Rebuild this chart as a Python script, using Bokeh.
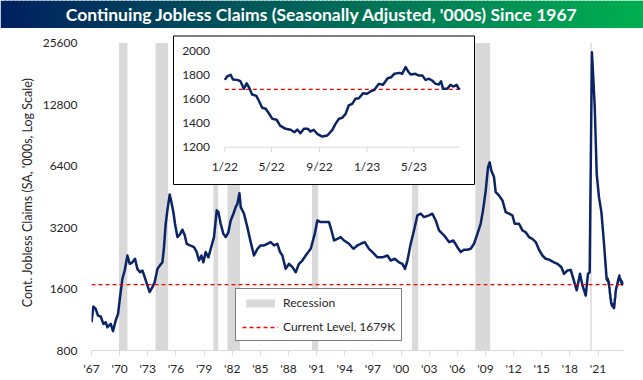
import numpy as np
import pandas as pd
from bokeh.plotting import figure
from bokeh.models import Range1d, LinearScale, FixedTicker, Legend, LegendItem, LinearAxis
from bokeh.core.properties import value
from bokeh.embed import file_html
from bokeh.resources import INLINE

# ---------------- data ----------------
TITLE = "Continuing Jobless Claims (Seasonally Adjusted, '000s) Since 1967"
Y_LABEL = "Cont. Jobless Claims (SA, '000s, Log Scale)"

hist_year = [
    1967.00, 1967.20, 1967.45, 1967.69, 1967.98, 1968.27, 1968.51, 1968.70, 1969.05, 1969.29,
    1969.58, 1969.83, 1970.04, 1970.29, 1970.54, 1970.83, 1971.07, 1971.36, 1971.64, 1971.89,
    1972.17, 1972.43, 1972.67, 1972.96, 1973.20, 1973.49, 1973.74, 1974.03, 1974.30, 1974.56,
    1974.73, 1974.91, 1975.09, 1975.34, 1975.52, 1975.73, 1975.90, 1976.16, 1976.43, 1976.69,
    1976.94, 1977.15, 1977.50, 1977.93, 1978.22, 1978.46, 1978.72, 1978.93, 1979.17, 1979.46,
    1979.71, 1980.06, 1980.35, 1980.53, 1980.77, 1981.06, 1981.31, 1981.59, 1981.84, 1982.13,
    1982.37, 1982.55, 1982.77, 1982.91, 1983.26, 1983.62, 1983.97, 1984.32, 1984.69, 1985.04,
    1985.39, 1985.75, 1986.10, 1986.46, 1986.82, 1987.10, 1987.35, 1987.70, 1988.06, 1988.42,
    1988.77, 1989.12, 1989.48, 1989.84, 1990.37, 1990.80, 1991.08, 1991.43, 1991.79, 1992.32,
    1992.58, 1992.86, 1993.22, 1993.57, 1993.92, 1994.45, 1994.92, 1995.35, 1995.70, 1996.13,
    1996.58, 1996.95, 1997.48, 1998.01, 1998.55, 1998.90, 1999.32, 1999.78, 2000.14, 2000.42,
    2000.68, 2001.03, 2001.38, 2001.74, 2002.10, 2002.45, 2002.98, 2003.34, 2003.70, 2004.05,
    2004.58, 2005.12, 2005.58, 2006.01, 2006.36, 2006.71, 2007.07, 2007.43, 2007.78, 2008.14,
    2008.49, 2008.74, 2009.03, 2009.27, 2009.45, 2009.63, 2009.91, 2010.09, 2010.44, 2010.81,
    2011.16, 2011.51, 2011.87, 2012.12, 2012.58, 2012.94, 2013.29, 2013.64, 2014.00, 2014.36,
    2014.71, 2015.07, 2015.42, 2015.77, 2016.31, 2016.67, 2017.10, 2017.37, 2017.74, 2018.09,
    2018.38, 2018.73, 2019.08, 2019.34, 2019.69, 2019.93, 2020.11, 2020.35, 2020.51, 2020.65,
    2020.86, 2021.10, 2021.36, 2021.64, 2021.92,
]
hist_claims = [
    1100, 1313, 1280, 1186, 1174, 1080, 1100, 1040, 1080, 995,
    1122, 1210, 1458, 1790, 1971, 2334, 2126, 2161, 2250, 2007,
    1933, 1971, 1828, 1666, 1546, 1633, 1729, 2007, 2088, 2161,
    2563, 3337, 3882, 4647, 4258, 3806, 3337, 2873, 2962, 3122,
    2929, 2664, 2614, 2563, 2426, 2205, 2334, 2161, 2426, 2287,
    2517, 2873, 3882, 3806, 3337, 2978, 2873, 3032, 3465, 3737,
    4024, 4176, 4712, 4024, 3737, 3205, 2714, 2334, 2517, 2614,
    2614, 2664, 2714, 2614, 2664, 2426, 2334, 2007, 2126, 2046,
    1933, 2126, 2205, 2334, 2517, 2978, 3465, 3400, 3400, 3400,
    3096, 2764, 2816, 2873, 2764, 2664, 2517, 2614, 2664, 2714,
    2517, 2426, 2287, 2287, 2334, 2205, 2250, 2161, 2126, 2007,
    2205, 2664, 3096, 3666, 3737, 3595, 3666, 3737, 3465, 3096,
    2929, 2714, 2764, 2563, 2426, 2490, 2490, 2517, 2664, 2978,
    3337, 3882, 4856, 6301, 6668, 6066, 5648, 4770, 4593, 4340,
    3806, 3737, 3666, 3337, 3337, 3096, 3032, 2873, 2816, 2714,
    2490, 2334, 2250, 2230, 2161, 2126, 2046, 1898, 1971, 1985,
    1790, 1577, 1898, 1666, 1487, 1898, 1933, 23080, 16778, 12414,
    5854, 4506, 3806, 2664, 1790,
]

# inset: days since 2022-01-01 and claims
inset_start = "2022-01-01"
inset_day = [
    0, 6, 15, 21, 32, 40, 49, 56, 62, 70,
    81, 87, 96, 105, 113, 122, 133, 142, 156, 169,
    179, 186, 194, 203, 213, 220, 228, 237, 250, 263,
    276, 284, 293, 301, 310, 318, 327, 335, 344, 355,
    365, 374, 384, 395, 406, 418, 427, 435, 449, 455,
    464, 470, 477, 489, 498, 507, 515, 524, 532, 541,
    549, 555, 560, 571, 579, 586, 595, 599, 603,
]
inset_claims = [
    1757, 1785, 1799, 1760, 1757, 1746, 1683, 1729, 1696, 1636,
    1625, 1586, 1526, 1518, 1481, 1435, 1427, 1379, 1352, 1344,
    1324, 1346, 1316, 1352, 1352, 1330, 1344, 1311, 1288, 1297,
    1344, 1393, 1435, 1443, 1476, 1545, 1559, 1600, 1605, 1647,
    1642, 1661, 1675, 1724, 1716, 1771, 1779, 1807, 1815, 1807,
    1862, 1829, 1801, 1807, 1793, 1793, 1757, 1766, 1752, 1724,
    1718, 1746, 1683, 1683, 1716, 1702, 1716, 1691, 1679,
]

recession_start = [1969.92, 1973.83, 1980.00, 1981.50, 1990.50, 2001.17, 2007.92, 2020.17]
recession_end = [1970.83, 1975.17, 1980.50, 1982.83, 1991.17, 2001.83, 2009.50, 2020.33]

current_level = 1679
current_label = "Current Level, 1679K"
recession_label = "Recession"

y_ticks = [800, 1600, 3200, 6400, 12800, 25600]
x_ticks = list(range(1967, 2022, 3))
x_tick_labels = ["'67", "'70", "'73", "'76", "'79", "'82", "'85", "'88", "'91", "'94",
                 "'97", "'00", "'03", "'06", "'09", "'12", "'15", "'18", "'21"]

inset_y_ticks = [1200, 1400, 1600, 1800, 2000]
inset_x_tick_dates = ["2022-01-01", "2022-05-01", "2022-09-01", "2023-01-01", "2023-05-01"]
inset_x_tick_labels = ["1/22", "5/22", "9/22", "1/23", "5/23"]

# ---------------- styles / geometry ----------------
FONT = "Lato"
NAVY = "#0b2466"
GRAY = "#d9d9d9"
TXT = "#262626"
RED = "#ff0000"
SMALL = "12px"
LABEL_SIZE = "12.5px"

W = 643
TITLE_H = 28
MAIN_H = 352
BL, BR, BT, BB = 91, 20, 6, 30

F_LEFT = BL
F_RIGHT = W - BR
F_TOP = TITLE_H + BT
F_BOT = TITLE_H + MAIN_H - BB

PX_PER_YEAR = 9.38
x_start = x_ticks[0]
x_end = x_start + (F_RIGHT - F_LEFT) / PX_PER_YEAR
TOP_TICK_PX = 42.5
dbl_px = (F_BOT - TOP_TICK_PX) / 5.0
y_bottom = y_ticks[0]
y_top = y_ticks[-1] * 2 ** ((TOP_TICK_PX - F_TOP) / dbl_px)

# inset geometry in page pixels
I_X0_PX = 224.3
I_PX_PER_DAY = 0.3897
I_Y_HI_PX, I_Y_LO_PX = 50.0, 146.7
i_ppu = (I_Y_LO_PX - I_Y_HI_PX) / (inset_y_ticks[-1] - inset_y_ticks[0])


def ix(px):
    return (px - I_X0_PX) / I_PX_PER_DAY


def iy(py):
    return inset_y_ticks[0] + (I_Y_LO_PX - py) * (1.0 / i_ppu)


start_ts = pd.Timestamp(inset_start)
inset_tick_days = [(pd.Timestamp(d) - start_ts).days for d in inset_x_tick_dates]

main_year = hist_year + [2022 + d / 365.0 for d in inset_day]
main_claims = hist_claims + inset_claims

# ---------------- title bar ----------------
tp = figure(width=W, height=TITLE_H, x_range=Range1d(0, 1), y_range=Range1d(0, 1),
            toolbar_location=None, output_backend="svg",
            x_axis_location=None, y_axis_location=None, min_border=0)
tp.grid.visible = False
tp.outline_line_color = None
n = 160
lefts = np.arange(n) / n
rights = lefts + 1.5 / n
c0 = np.array([0, 32, 96])
c1 = np.array([0, 176, 80])
cols = []
for f in (lefts + 0.5 / n):
    c = (c0 + (c1 - c0) * f).round().astype(int)
    cols.append("#%02x%02x%02x" % tuple(c))
tp.quad(left=lefts, right=rights, bottom=0, top=1, fill_color=cols, line_color=None)
tp.text(x=[0.5], y=[0.5], text=[TITLE], text_align="center", text_baseline="middle",
        text_color="white", text_font=value(FONT), text_font_style="bold", text_font_size="17.5px")

# ---------------- main chart ----------------
p = figure(width=W, height=MAIN_H, x_range=Range1d(x_start, x_end), y_range=Range1d(y_bottom, y_top),
           y_axis_type="log", toolbar_location=None, output_backend="svg",
           min_border_left=BL, min_border_right=BR, min_border_top=BT, min_border_bottom=BB)
p.grid.visible = False
p.outline_line_color = None
p.background_fill_color = "white"
p.border_fill_color = "white"

bands = p.quad(left=recession_start, right=recession_end, bottom=y_ticks[0], top=y_ticks[-1],
               fill_color=GRAY, line_color=None)
p.line(main_year, main_claims, line_width=2.5, color=NAVY, line_join="round")
cur = p.line([x_start, x_end], [current_level, current_level], line_color=RED, line_width=1.3,
             line_dash="4 3")

# axes
p.xaxis.ticker = FixedTicker(ticks=x_ticks)
p.xaxis.major_label_overrides = {t: l for t, l in zip(x_ticks, x_tick_labels)}
p.xaxis.axis_line_color = GRAY
p.xaxis.major_tick_line_color = GRAY
p.xaxis.major_tick_out = 5
p.xaxis.major_tick_in = 0
p.xaxis.minor_tick_line_color = None
p.xaxis.major_label_standoff = 5
p.xaxis.major_label_text_font = FONT
p.xaxis.major_label_text_font_size = SMALL
p.xaxis.major_label_text_color = TXT

p.yaxis.ticker = FixedTicker(ticks=y_ticks)
p.yaxis.major_label_overrides = {t: str(t) for t in y_ticks}
p.yaxis.axis_line_color = None
p.yaxis.major_tick_line_color = None
p.yaxis.minor_tick_line_color = None
p.yaxis.major_tick_out = 0
p.yaxis.major_tick_in = 0
p.yaxis.major_label_standoff = 14
p.yaxis.major_label_text_font = FONT
p.yaxis.major_label_text_font_size = SMALL
p.yaxis.major_label_text_color = TXT
p.yaxis.axis_label = Y_LABEL
p.yaxis.axis_label_text_font = FONT
p.yaxis.axis_label_text_font_size = LABEL_SIZE
p.yaxis.axis_label_text_font_style = "normal"
p.yaxis.axis_label_text_color = TXT
p.yaxis.axis_label_standoff = 5

# empty outer spacer axis so the real y axis sits next to the frame
pad_axis = LinearAxis(ticker=FixedTicker(ticks=[]), axis_line_color=None,
                      major_tick_line_color=None, minor_tick_line_color=None,
                      major_tick_in=0, major_tick_out=0, major_label_standoff=0,
                      axis_label=" ", axis_label_text_font=FONT,
                      axis_label_text_font_size="10px", axis_label_standoff=0)
p.add_layout(pad_axis, "left")

# legend
legend = Legend(items=[LegendItem(label=recession_label, renderers=[bands]),
                       LegendItem(label=current_label, renderers=[cur])],
                location=(235 - F_LEFT, F_BOT - 341))
legend.border_line_color = "black"
legend.border_line_width = 1
legend.background_fill_color = "white"
legend.background_fill_alpha = 1
legend.padding = 6
legend.spacing = 9
legend.margin = 0
legend.label_height = 15
legend.glyph_height = 10
legend.glyph_width = 36
legend.label_standoff = 5
legend.label_text_font = FONT
legend.label_text_font_size = SMALL
legend.label_text_color = TXT
p.add_layout(legend)

# ---------------- inset ----------------
p.extra_x_ranges = {"inset": Range1d(ix(F_LEFT), ix(F_RIGHT))}
p.extra_y_ranges = {"inset": Range1d(iy(F_BOT), iy(F_TOP))}
p.extra_x_scales = {"inset": LinearScale()}
p.extra_y_scales = {"inset": LinearScale()}
kw = dict(x_range_name="inset", y_range_name="inset")

p.quad(left=ix(173), right=ix(474), bottom=iy(184), top=iy(35.5),
       fill_color="white", line_color="black", line_width=1, **kw)
last_day = inset_day[-1]
p.line([inset_day[0], last_day], [inset_y_ticks[0], inset_y_ticks[0]], color=GRAY, line_width=1, **kw)
p.segment(x0=inset_tick_days, x1=inset_tick_days, y0=[inset_y_ticks[0]] * len(inset_tick_days),
          y1=[iy(I_Y_LO_PX + 5)] * len(inset_tick_days), color=GRAY, line_width=1, **kw)
p.text(x=inset_tick_days, y=[iy(165.7)] * len(inset_tick_days), text=inset_x_tick_labels,
       text_align="center", text_baseline="middle", text_font=value(FONT),
       text_font_size=SMALL, text_color=TXT, **kw)
p.text(x=[ix(209.5)] * len(inset_y_ticks), y=inset_y_ticks, text=[str(v) for v in inset_y_ticks],
       text_align="right", text_baseline="middle", text_font=value(FONT),
       text_font_size=SMALL, text_color=TXT, **kw)
p.line([inset_day[0], last_day], [current_level, current_level], line_color=RED, line_width=1.3,
       line_dash="4 3", **kw)
p.line(inset_day, inset_claims, color=NAVY, line_width=2.5, line_join="round", **kw)

# two independent roots stacked on the page (title bar, then chart)
open("out.html", "w").write(file_html([tp, p], INLINE))
